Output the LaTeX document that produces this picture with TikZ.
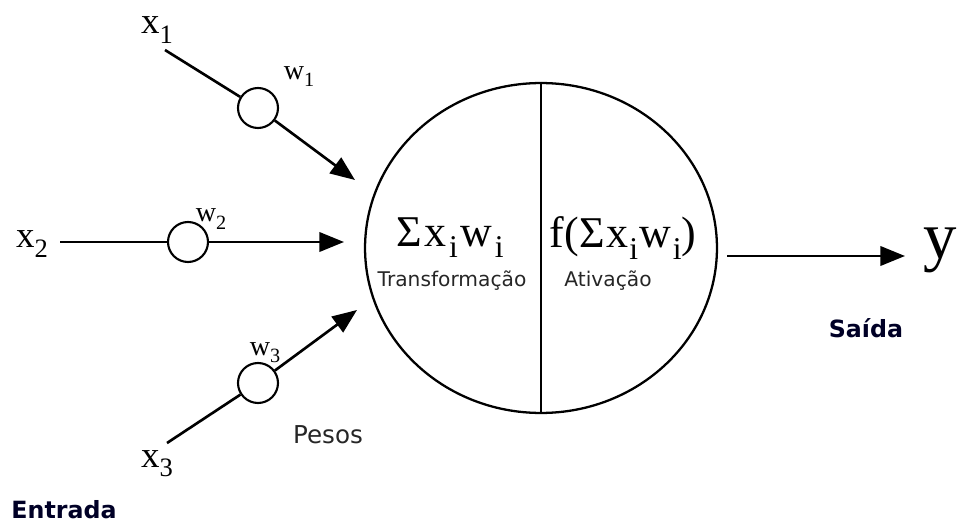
\documentclass[tikz,border=0pt]{standalone}
\usepackage{fontspec}
\usepackage{graphicx}
\setmainfont{Liberation Serif}
\newfontfamily\labsans{DejaVu Sans}
\usetikzlibrary{arrows.meta,shapes.geometric}
\newcommand{\lsub}[1]{\raisebox{-0.55ex}{\scalebox{0.72}{#1}}}
\newcommand{\gp}{\hspace{1.5pt}}
\newcommand{\gq}{\hspace{0.8pt}}
\begin{document}
\begin{tikzpicture}[x=0.02cm,y=-0.02cm,
  wire/.style={line width=1.5pt},
  arr/.style={wire,-{Triangle[length=14pt,width=11pt]}},
  wcirc/.style={circle,draw,line width=1.2pt,minimum size=0.8cm,inner sep=0pt,fill=white},
  varlab/.style={font=\fontsize{21}{21}\selectfont,inner sep=0pt},
  wlab/.style={font=\fontsize{16}{16}\selectfont,inner sep=0pt},
  formula/.style={font=\fontsize{25}{25}\selectfont,inner sep=0pt},
  smalltxt/.style={font=\labsans\fontsize{11.5}{11.5}\selectfont,text=black!85,inner sep=0pt},
  boldtxt/.style={font=\labsans\bfseries\fontsize{13.5}{13.5}\selectfont,text=black!85!blue,inner sep=0pt}]
\useasboundingbox (0,0) rectangle (957,527);
% neuron
\node[ellipse,draw,line width=1.3pt,minimum width=7.04cm,minimum height=6.6cm,inner sep=0pt] (neuron) at (541,248) {};
\draw[line width=1.3pt] (neuron.north) -- (neuron.south);
% weight circles
\node[wcirc] (c1) at (258,108) {};
\node[wcirc] (c2) at (188,242) {};
\node[wcirc] (c3) at (258,383) {};
% line ends
\coordinate (s1) at (165,50);
\coordinate (s2) at (60,242);
\coordinate (s3) at (167,443);
\coordinate (t1) at (355,180);
\coordinate (t2) at (344,242);
\coordinate (t3) at (357,310);
\coordinate (o1) at (727,256);
\coordinate (o2) at (905,256);
\draw[wire] (s1) -- (c1);
\draw[arr] (c1) -- (t1);
\draw[wire] (s2) -- (c2);
\draw[arr] (c2) -- (t2);
\draw[wire] (s3) -- (c3);
\draw[arr] (c3) -- (t3);
\draw[arr] (o1) -- (o2);
% labels
\node[varlab] (lx1) at (157,30) {x\lsub{1}};
\node[varlab] (lx2) at (32,244) {x\lsub{2}};
\node[varlab] (lx3) at (157,464) {x\lsub{3}};
\node[wlab] (lw1) at (299,77) {w\lsub{1}};
\node[wlab] (lw2) at (211,219) {w\lsub{2}};
\node[wlab] (lw3) at (265,353) {w\lsub{3}};
\node[formula] (sum) at (450,238) {Σ\gp x\gp\lsub{i}\gp w\gp\lsub{i}};
\node[formula] (act) at (623,238) {f(Σ\gq x\gq\lsub{i}\gq w\gq\lsub{i})};
\node[smalltxt] (tr) at (452,281) {Transformação};
\node[smalltxt] (at) at (608,281) {Ativação};
\node[smalltxt,font=\labsans\fontsize{14}{14}\selectfont] (pesos) at (328,435) {Pesos};
\node[boldtxt] (entrada) at (64,510) {Entrada};
\node[boldtxt] (saida) at (866,328) {Saída};
\node[font=\fontsize{38}{38}\selectfont,inner sep=0pt] (ly) at (940,250) {y};
\end{tikzpicture}
\end{document}
